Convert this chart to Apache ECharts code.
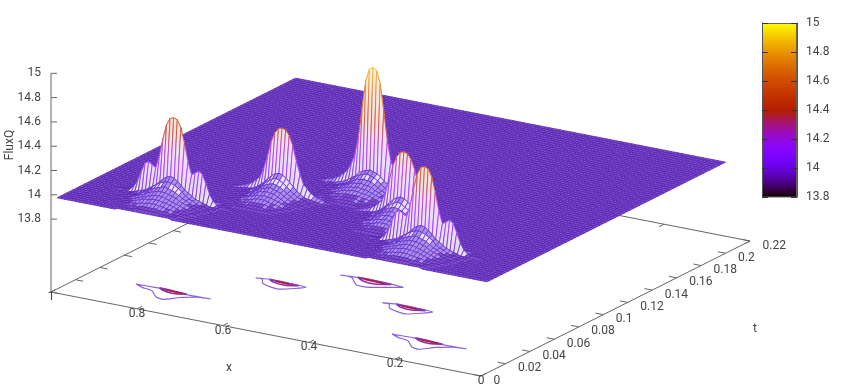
<!DOCTYPE html>
<html>
<head>
<meta charset="utf-8">
<style>html,body{margin:0;background:#fff}#chart{width:843px;height:391px}</style>
<script src="https://cdn.jsdelivr.net/npm/echarts@6/dist/echarts.min.js"></script>
</head>
<body>
<div id="chart"></div>
<script>
const xTicks = [1, 0.8, 0.6, 0.4, 0.2, 0];
const tTicks = [0, 0.02, 0.04, 0.06, 0.08, 0.1, 0.12, 0.14, 0.16, 0.18, 0.2, 0.22];
const zTicks = [13.8, 14, 14.2, 14.4, 14.6, 14.8, 15];

const flatLevel = 13.95;
const xCells = 120;
const tCells = 78;
const tStart = 0.005;
const tStep = 0.0025;

// height over flatLevel in 0.01 units, rows run front to back, columns centre to edge
const humpWide = [
  [1, 1, 1, 1, 1, 1, 1, 1],
  [2, 2, 2, 2, 1, 1, 1, 1, 1],
  [3, 3, 3, 2, 2, 2, 1, 1, 1, 1],
  [5, 5, 4, 4, 3, 3, 2, 2, 1, 1, 1],
  [7, 7, 6, 6, 5, 4, 3, 2, 2, 1, 1, 1],
  [9, 9, 8, 7, 6, 5, 4, 3, 2, 2, 1, 1],
  [11, 11, 10, 9, 8, 6, 5, 4, 3, 2, 1, 1, 1],
  [14, 13, 12, 11, 9, 7, 6, 4, 3, 2, 2, 1, 1],
  [17, 16, 15, 13, 11, 8, 6, 5, 3, 2, 2, 1, 1, 1],
  [20, 19, 17, 14, 11, 9, 7, 5, 4, 3, 2, 1, 1, 1],
  [67, 66, 60, 48, 33, 23, 25, 27, 25, 18, 10, 5, 2, 1, 1, 1],
  [25, 23, 18, 12, 8, 8, 9, 9, 8, 5, 3, 2, 1, 1],
  [8, 8, 6, 4, 3, 3, 3, 3, 3, 2, 1, 1],
  [2, 2, 2, 1, 1, 1, 1, 1]
];
const humpMid = [
  [1, 1, 1, 1, 1, 1],
  [2, 2, 2, 1, 1, 1, 1],
  [3, 3, 3, 2, 2, 1, 1, 1],
  [5, 5, 4, 3, 3, 2, 1, 1, 1],
  [7, 6, 6, 5, 4, 3, 2, 1, 1],
  [9, 8, 8, 6, 5, 3, 2, 2, 1, 1],
  [11, 10, 9, 8, 6, 4, 3, 2, 1, 1],
  [13, 12, 11, 9, 7, 5, 3, 2, 2, 1, 1],
  [16, 15, 13, 11, 8, 6, 4, 3, 2, 1, 1],
  [19, 18, 16, 13, 10, 7, 5, 3, 2, 2, 1, 1],
  [55, 54, 50, 42, 30, 20, 12, 9, 6, 4, 3, 2, 1, 1],
  [20, 19, 17, 14, 10, 7, 4, 3, 2, 1, 1],
  [6, 6, 5, 4, 3, 2, 1, 1],
  [2, 2, 1, 1, 1]
];
const humpTall = [
  [1, 1, 1, 1, 1, 1, 1],
  [2, 2, 2, 1, 1, 1, 1],
  [3, 3, 3, 2, 2, 1, 1, 1, 1],
  [4, 4, 4, 3, 3, 2, 2, 1, 1, 1],
  [6, 6, 5, 5, 4, 3, 2, 1, 1, 1],
  [8, 7, 7, 6, 5, 4, 3, 2, 1, 1],
  [10, 9, 9, 8, 6, 5, 3, 2, 2, 1, 1],
  [12, 11, 11, 9, 7, 5, 4, 3, 2, 1, 1],
  [15, 14, 13, 11, 9, 6, 4, 3, 2, 1, 1],
  [17, 16, 15, 13, 10, 8, 6, 4, 3, 2, 1, 1],
  [100, 98, 88, 66, 42, 26, 18, 12, 9, 6, 4, 3, 2, 1, 1],
  [30, 28, 24, 18, 12, 8, 6, 4, 3, 2, 1, 1],
  [8, 8, 6, 5, 3, 2, 2, 1, 1],
  [2, 2, 2, 1, 1, 1]
];
const ridgeRowIndex = 10;
const humpPlaces = [
  { table: humpWide, col: 24, row: 10 },
  { table: humpMid, col: 44, row: 22 },
  { table: humpTall, col: 60, row: 33 },
  { table: humpMid, col: 78, row: 22 },
  { table: humpWide, col: 94, row: 10 }
];

// contour loops on the base plane, [x offset from centre, t]
const contourWideOuter = [[0.087, 0.0288], [0.045, 0.0293], [0.011, 0.0296], [-0.036, 0.0279], [-0.088, 0.0284], [-0.058, 0.0275], [-0.031, 0.0231], [-0.009, 0.017], [0.012, 0.0185], [0.038, 0.0246], [0.066, 0.0263], [0.087, 0.0288]];
const contourWideInner = [[0.035, 0.0297], [-0.032, 0.0285], [-0.007, 0.0262], [0.018, 0.0272], [0.035, 0.0297]];
const contourWideCore = [[0.018, 0.0287], [-0.022, 0.0283]];
const contourMidOuter = [[0.058, 0.0633], [0.031, 0.0651], [-0.016, 0.0649], [-0.057, 0.0641], [-0.019, 0.0556], [0.029, 0.0588], [0.043, 0.0634], [0.058, 0.0633]];
const contourMidInner = [[0.03, 0.0648], [-0.04, 0.064], [-0.015, 0.0615], [0.015, 0.0625], [0.03, 0.0648]];
const contourMidCore = [[0.015, 0.0641], [-0.02, 0.0636]];
const contourTallOuter = [[0.073, 0.0862], [0.025, 0.0878], [-0.021, 0.0877], [-0.073, 0.0862], [-0.017, 0.0785], [0.013, 0.0782], [0.047, 0.0861], [0.073, 0.0862]];
const contourTallInner = [[0.036, 0.0875], [-0.044, 0.0868], [-0.014, 0.0835], [0.016, 0.0845], [0.036, 0.0875]];
const contourTallCore = [[0.02, 0.0868], [-0.03, 0.086]];
const contourPlaces = [
  { x: 0.797, loops: [contourWideOuter, contourWideInner, contourWideCore] },
  { x: 0.646, loops: [contourMidOuter, contourMidInner, contourMidCore] },
  { x: 0.499, loops: [contourTallOuter, contourTallInner, contourTallCore] },
  { x: 0.351, loops: [contourMidOuter, contourMidInner, contourMidCore] },
  { x: 0.202, loops: [contourWideOuter, contourWideInner, contourWideCore] }
];
const contourColors = ['#8a62dc', '#8e2fa8', '#b01c3c'];

// gnuplot view of the box, as picture positions
const project = (x, t, z) => [
  51 + (1 - x) * 430 + t / 0.22 * 269,
  292 + (1 - x) * 84 - t / 0.22 * 135 - (z - 13.2) * 121.5
];

const palette = (z) => {
  const g = Math.min(1, Math.max(0, (z - 13.8) / 1.2));
  return [Math.sqrt(g), g * g * g, Math.max(0, Math.sin(2 * Math.PI * g))].map((c) => Math.round(c * 255));
};
const rgb = (c) => `rgb(${c[0]},${c[1]},${c[2]})`;
const pale = (c, k) => rgb(c.map((v) => Math.round(v + (255 - v) * k)));

const heightAt = (col, row) => {
  let z = flatLevel;
  humpPlaces.forEach((h) => {
    const line = h.table[row - h.row + ridgeRowIndex];
    const v = line && line[Math.abs(col - h.col)];
    if (v) z += v / 100;
  });
  return z;
};

const corner = (col, row) => project(1 - col / xCells, tStart + row * tStep, heightAt(col, row));

// back to front, so nearer cells cover what is behind them
const cells = [];
for (let row = tCells - 1; row >= 0; row--) {
  for (let col = 0; col < xCells; col++) cells.push([col, row]);
}

const strokeFor = (zLow, zHigh, yTop, yBottom, k) => {
  const stops = [0, 0.25, 0.5, 0.75, 1].map((o) => {
    const c = palette(zHigh - (zHigh - zLow) * o - 0.1);
    return { offset: o, color: pale(c, k) };
  });
  return new echarts.graphic.LinearGradient(0, yTop, 0, yBottom, stops, true);
};

const renderCell = (params, api) => {
  const col = api.value(0), row = api.value(1);
  const zs = [heightAt(col, row), heightAt(col + 1, row), heightAt(col + 1, row + 1), heightAt(col, row + 1)];
  const pts = [corner(col, row), corner(col + 1, row), corner(col + 1, row + 1), corner(col, row + 1)].map((p) => api.coord(p));
  const zLow = Math.min(...zs), zHigh = Math.max(...zs);
  const rise = zHigh - zLow;
  let fill = '#8252d2', stroke = '#5a28b0', lineWidth = 0.8;
  if (rise > 0.12) {
    const ys = pts.map((p) => p[1]);
    const yTop = Math.min(...ys), yBottom = Math.max(...ys);
    stroke = strokeFor(zLow, zHigh, yTop, yBottom, 0.25);
    fill = strokeFor(zLow, zHigh, yTop, yBottom, 0.86);
    lineWidth = 0.9;
  } else if (rise > 0.015) {
    fill = rise > 0.04 ? '#e8def9' : '#ab90ea';
    stroke = '#6430cc';
  }
  return { type: 'polygon', shape: { points: pts }, style: { fill, stroke, lineWidth } };
};

const axisLine = (pts) => ({
  type: 'line', xAxisIndex: 0, yAxisIndex: 0, data: pts, symbol: 'none', silent: true, z: 1,
  lineStyle: { color: '#666', width: 1 }
});

const boxLines = [
  [project(1, 0, 13.2), project(1, 0, 15)],
  [project(1, 0, 13.2), project(0, 0, 13.2)],
  [project(0, 0, 13.2), project(0, 0.22, 13.2)],
  [project(0, 0.22, 13.2), project(1, 0.22, 13.2)],
  [project(1, 0.22, 13.2), project(1, 0, 13.2)]
];
const tickLines = [];
tTicks.forEach((t) => {
  tickLines.push([project(1, t, 13.2), project(0.982, t, 13.2)]);
  tickLines.push([project(0, t, 13.2), project(0.018, t, 13.2)]);
});
xTicks.forEach((x) => {
  tickLines.push([project(x, 0, 13.2), project(x, 0.004, 13.2)]);
  tickLines.push([project(x, 0.22, 13.2), project(x, 0.216, 13.2)]);
});
zTicks.forEach((z) => {
  const p = project(1, 0, z);
  tickLines.push([p, [p[0] + 6, p[1]]]);
});

const contourSeries = [];
contourPlaces.forEach((place) => {
  place.loops.forEach((loop, i) => {
    contourSeries.push({
      type: 'line', xAxisIndex: 0, yAxisIndex: 0, symbol: 'none', silent: true, z: 1, smooth: 0.2,
      data: loop.map((p) => project(place.x + p[0], p[1], 13.2)),
      lineStyle: { color: contourColors[i], width: i ? 1.6 : 1.2 }
    });
  });
});

const textFont = '12px Roboto';
const textColor = '#444';
const labelSeries = (items, align) => ({
  type: 'custom', xAxisIndex: 0, yAxisIndex: 0, silent: true, clip: false, z: 5,
  data: items,
  renderItem: (params, api) => {
    const p = api.coord([api.value(0), api.value(1)]);
    return {
      type: 'text', x: p[0], y: p[1],
      style: { text: String(items[params.dataIndex][2]), fill: textColor, font: textFont, align, verticalAlign: 'middle' }
    };
  }
});

const zLabels = zTicks.map((z) => { const p = project(1, 0, z); return [p[0] - 10, p[1], z]; });
const xLabels = xTicks.map((x) => { const p = project(x, 0, 13.2); return [p[0], p[1] + 5, x]; });
const tLabels = tTicks.map((t) => { const p = project(0, t, 13.2); return [p[0] + 12.5, p[1] + 4.5, t]; });

const colorStops = [];
for (let i = 0; i <= 40; i++) colorStops.push({ offset: i / 40, color: rgb(palette(15 - 1.2 * i / 40)) });

const chart = echarts.init(document.getElementById('chart'), null, { renderer: 'canvas' });
chart.setOption({
  animation: false,
  backgroundColor: '#fff',
  textStyle: { fontFamily: 'Roboto' },
  grid: [
    { left: 0, top: 0, right: 0, bottom: 0 },
    { left: 762, top: 23, width: 35, height: 174 }
  ],
  xAxis: [
    { type: 'value', min: 0, max: 843, show: false, gridIndex: 0 },
    { type: 'category', data: ['FluxQ'], show: false, gridIndex: 1 }
  ],
  yAxis: [
    { type: 'value', min: 0, max: 391, inverse: true, show: false, gridIndex: 0 },
    {
      type: 'value', min: 13.8, max: 15, interval: 0.2, gridIndex: 1, position: 'right',
      axisLine: { show: true, lineStyle: { color: '#555' } },
      axisTick: { show: true, inside: true, length: 6, lineStyle: { color: '#333' } },
      axisLabel: { color: textColor, fontSize: 12, margin: 9, formatter: (v) => String(+v.toFixed(1)) },
      splitLine: { show: false }, z: 4
    },
    {
      type: 'value', min: 13.8, max: 15, interval: 0.2, gridIndex: 1, position: 'left',
      axisLine: { show: true, lineStyle: { color: '#555' } },
      axisTick: { show: true, inside: true, length: 6, lineStyle: { color: '#333' } },
      axisLabel: { show: false }, splitLine: { show: false }, z: 4
    }
  ],
  graphic: [
    { type: 'text', x: 10, y: 145, rotation: Math.PI / 2, style: { text: 'FluxQ', fill: textColor, font: textFont, align: 'center', verticalAlign: 'middle' } },
    { type: 'text', x: 229, y: 368, style: { text: 'x', fill: textColor, font: textFont, align: 'center', verticalAlign: 'middle' } },
    { type: 'text', x: 755, y: 329, style: { text: 't', fill: textColor, font: textFont, align: 'center', verticalAlign: 'middle' } }
  ],
  series: [
    ...boxLines.map(axisLine),
    ...tickLines.map(axisLine),
    ...contourSeries,
    {
      type: 'custom', xAxisIndex: 0, yAxisIndex: 0, silent: true, clip: false,
      data: cells, renderItem: renderCell, progressive: 0, z: 3
    },
    labelSeries(zLabels, 'right'),
    labelSeries(xLabels, 'center'),
    labelSeries(tLabels, 'left'),
    {
      type: 'bar', xAxisIndex: 1, yAxisIndex: 1, data: [15], barWidth: '100%', silent: true,
      itemStyle: { color: new echarts.graphic.LinearGradient(0, 0, 0, 1, colorStops), borderColor: '#665', borderWidth: 1 }
    }
  ]
});
</script>
</body>
</html>
